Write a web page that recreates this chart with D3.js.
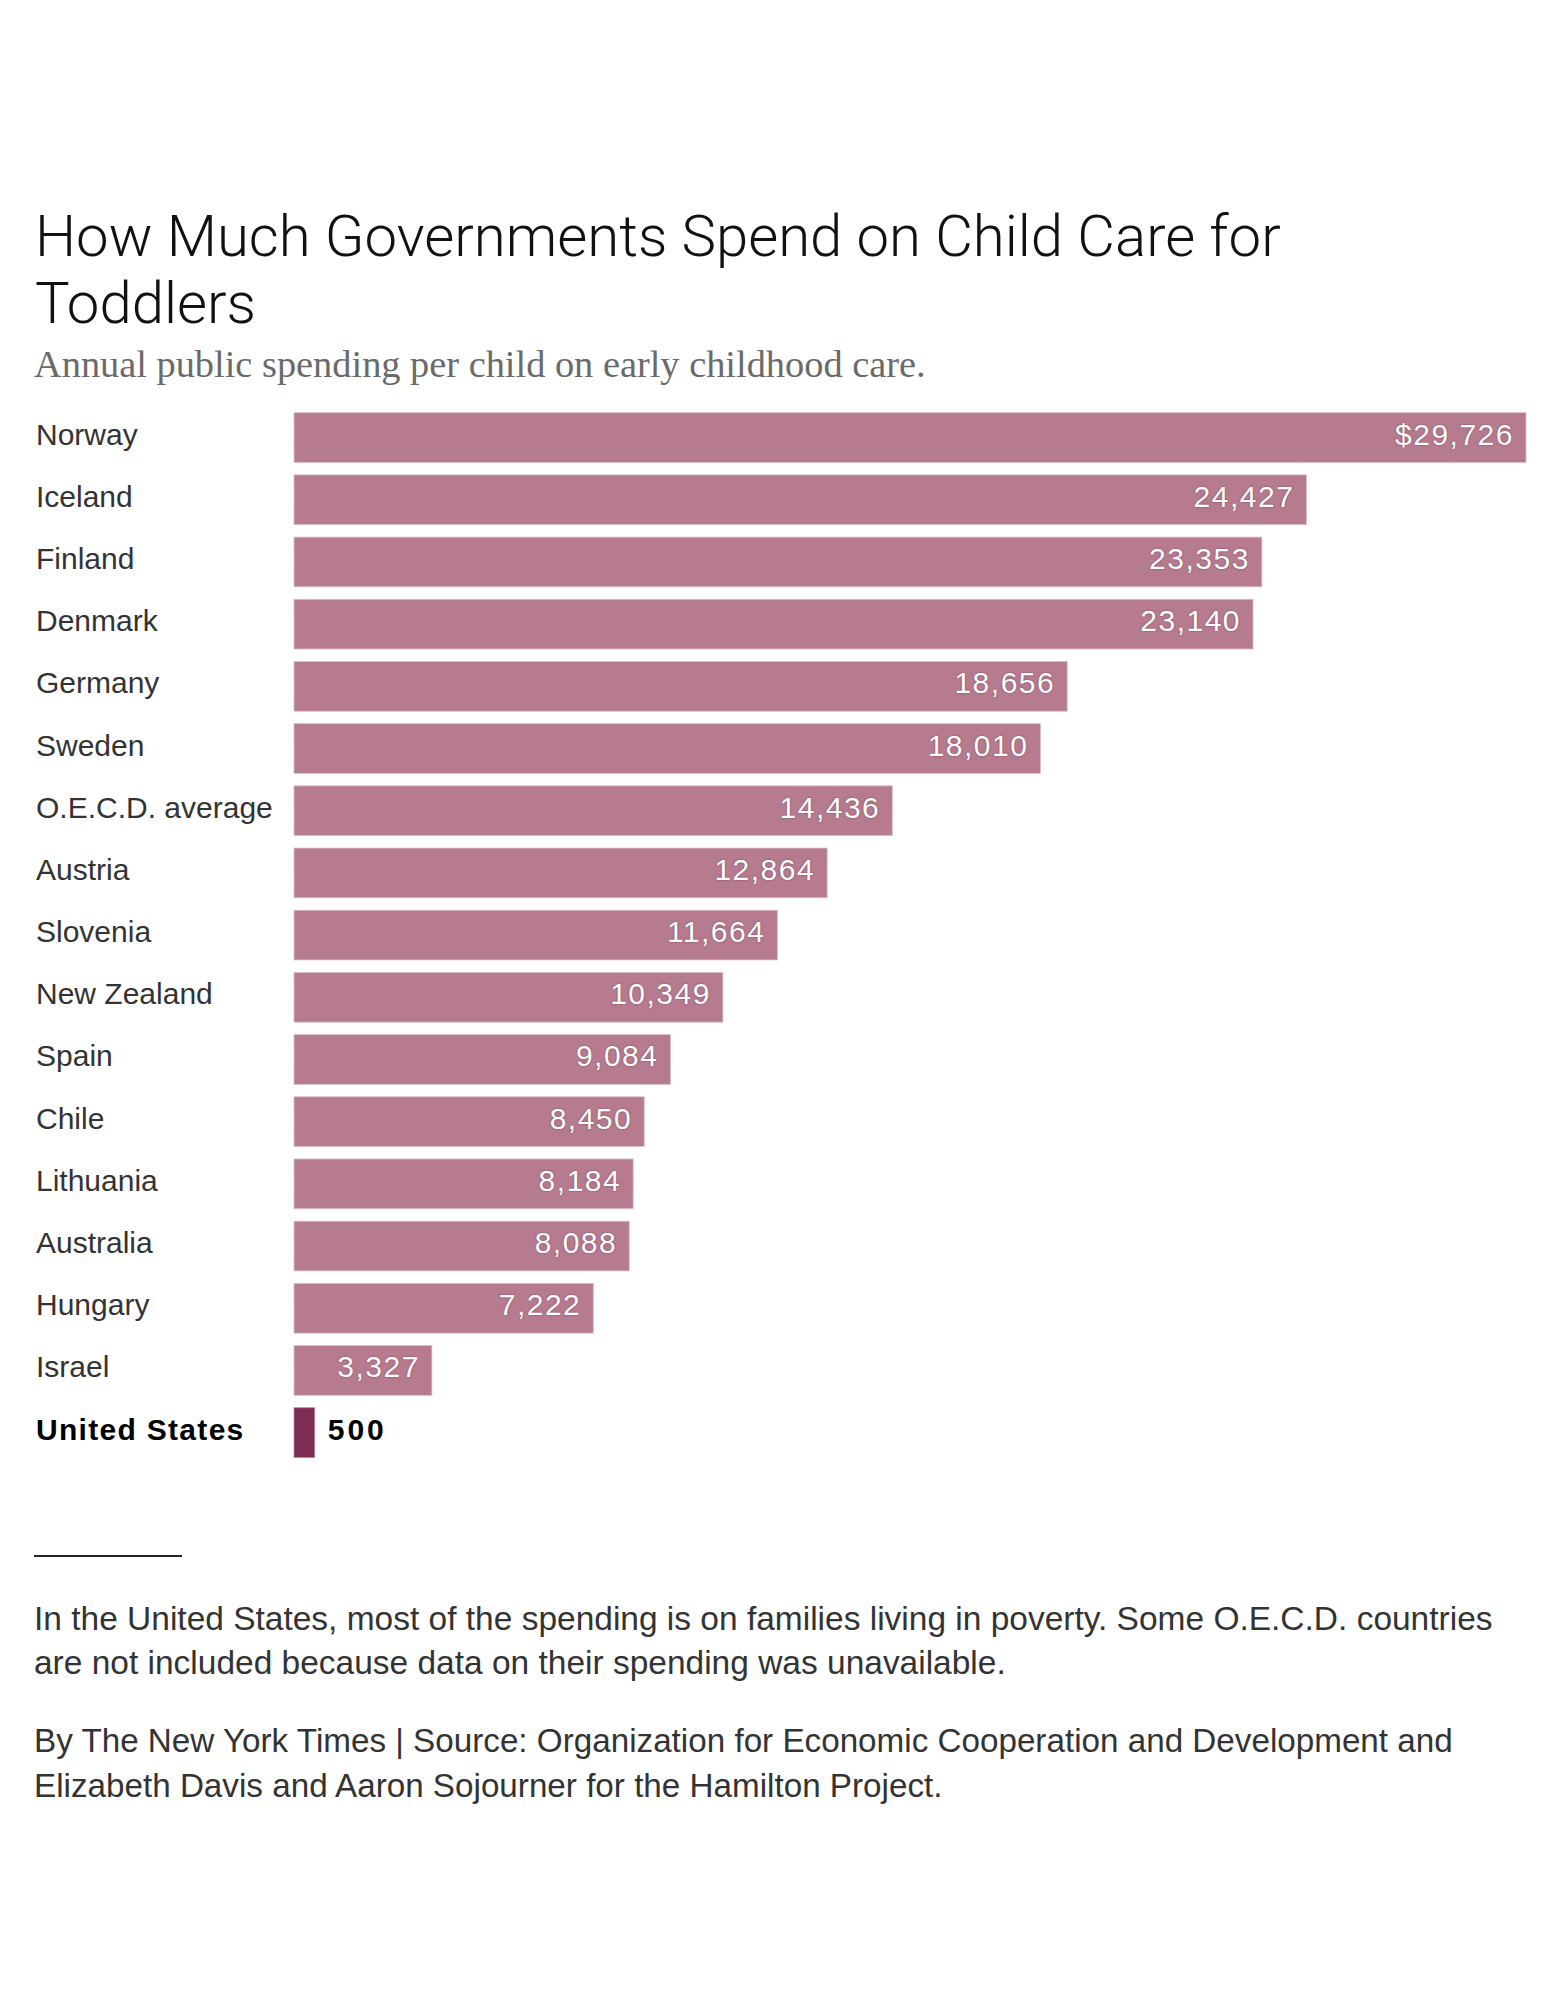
<!DOCTYPE html>
<html>
<head>
<meta charset="utf-8">
<script src="https://cdn.jsdelivr.net/npm/d3@7"></script>
<style>
  html, body { margin: 0; padding: 0; background: #fff; }
  svg { display: block; }
</style>
</head>
<body>
<svg id="chart" width="1545" height="2000"></svg>
<script>
// ---- Data ----
const countries = ["Norway", "Iceland", "Finland", "Denmark", "Germany", "Sweden", "O.E.C.D. average",
  "Austria", "Slovenia", "New Zealand", "Spain", "Chile", "Lithuania", "Australia", "Hungary", "Israel", "United States"];
const spending = [29726, 24427, 23353, 23140, 18656, 18010, 14436, 12864, 11664, 10349, 9084, 8450, 8184, 8088, 7222, 3327, 500];
const highlight = ["United States"];

const titleLines = ["How Much Governments Spend on Child Care for", "Toddlers"];
const subtitle = "Annual public spending per child on early childhood care.";
const noteLines = ["In the United States, most of the spending is on families living in poverty. Some O.E.C.D. countries",
  "are not included because data on their spending was unavailable."];
const creditLines = ["By The New York Times | Source: Organization for Economic Cooperation and Development and",
  "Elizabeth Davis and Aaron Sojourner for the Hamilton Project."];

// ---- Drawing ----
const svg = d3.select("#chart");
const sans = "'Liberation Sans', Arial, sans-serif";

function fitText(sel, target) {
  const node = sel.node();
  const w = node.getComputedTextLength();
  const fs = parseFloat(sel.attr("font-size"));
  return fs * target / w;
}

// Title
const title = svg.append("g");
const t1 = title.append("text").attr("x", 35).attr("y", 256)
  .attr("font-family", "Roboto, 'Liberation Sans', sans-serif").attr("font-weight", 300)
  .attr("font-size", 58).attr("fill", "#111").text(titleLines[0]);
const titleFs = fitText(t1, 1246);
t1.attr("font-size", titleFs);
title.append("text").attr("x", 35).attr("y", 323)
  .attr("font-family", "Roboto, 'Liberation Sans', sans-serif").attr("font-weight", 300)
  .attr("font-size", titleFs).attr("fill", "#111").text(titleLines[1]);

// Subtitle
const st = svg.append("text").attr("x", 34).attr("y", 377)
  .attr("font-family", "'Liberation Serif', 'DejaVu Serif', serif")
  .attr("font-size", 34).attr("fill", "#6a6a6a").text(subtitle);
st.attr("font-size", fitText(st, 892));

// Scales
const x = d3.scaleLinear().domain([0, d3.max(spending)]).range([294, 1526]);
const y = d3.scaleBand().domain(countries).range([412.7, 1457.5]).paddingInner(0.2).paddingOuter(0);
const rows = countries.map((c, i) => ({ country: c, value: spending[i], hi: highlight.includes(c), i }));

const g = svg.append("g");

g.selectAll("rect.bar").data(rows).join("rect")
  .attr("class", "bar")
  .attr("x", x(0))
  .attr("y", d => y(d.country))
  .attr("width", d => x(d.value) - x(0))
  .attr("height", y.bandwidth())
  .attr("fill", d => d.hi ? "#7e2c52" : "#b77b8f")
  .attr("stroke", d => d.hi ? "#b98aa0" : "#dcc0ca")
  .attr("stroke-width", 0.8);

// Country labels
g.selectAll("text.country").data(rows).join("text")
  .attr("class", "country")
  .attr("x", 36)
  .attr("y", d => y(d.country) + y.bandwidth() / 2 + 7)
  .attr("font-family", sans)
  .attr("font-size", 30)
  .attr("letter-spacing", d => d.hi ? 1.3 : 0)
  .attr("font-weight", d => d.hi ? 700 : 400)
  .attr("fill", d => d.hi ? "#000" : "#333")
  .text(d => d.country);

// Value labels
const fmt = d3.format(",");
g.selectAll("text.value").data(rows).join("text")
  .attr("class", "value")
  .attr("x", d => d.hi ? x(d.value) + 13 : x(d.value) - 12)
  .attr("y", d => y(d.country) + y.bandwidth() / 2 + 7)
  .attr("text-anchor", d => d.hi ? "start" : "end")
  .attr("font-family", sans)
  .attr("font-size", 30)
  .attr("letter-spacing", d => d.hi ? 3 : 1.5)
  .attr("font-weight", d => d.hi ? 700 : 400)
  .attr("fill", d => d.hi ? "#000" : "#fff")
  .style("text-shadow", d => d.hi ? "none" : "0 0 2px rgba(80,30,50,0.6)")
  .text(d => (d.i === 0 ? "$" : "") + fmt(d.value));

// Rule
svg.append("line").attr("x1", 34).attr("x2", 182).attr("y1", 1556).attr("y2", 1556)
  .attr("stroke", "#222").attr("stroke-width", 2);

// Note and credit
function paragraph(lines, y0, lh, target) {
  const sel = svg.append("g").selectAll("text").data(lines).join("text")
    .attr("x", 34).attr("y", (d, i) => y0 + i * lh)
    .attr("font-family", sans).attr("font-size", 30).attr("fill", "#333")
    .text(d => d);
  const first = d3.select(sel.nodes()[0]);
  const fs = fitText(first, target);
  sel.attr("font-size", fs);
}
paragraph(noteLines, 1630, 44, 1459);
paragraph(creditLines, 1752, 44.5, 1419);
</script>
</body>
</html>
